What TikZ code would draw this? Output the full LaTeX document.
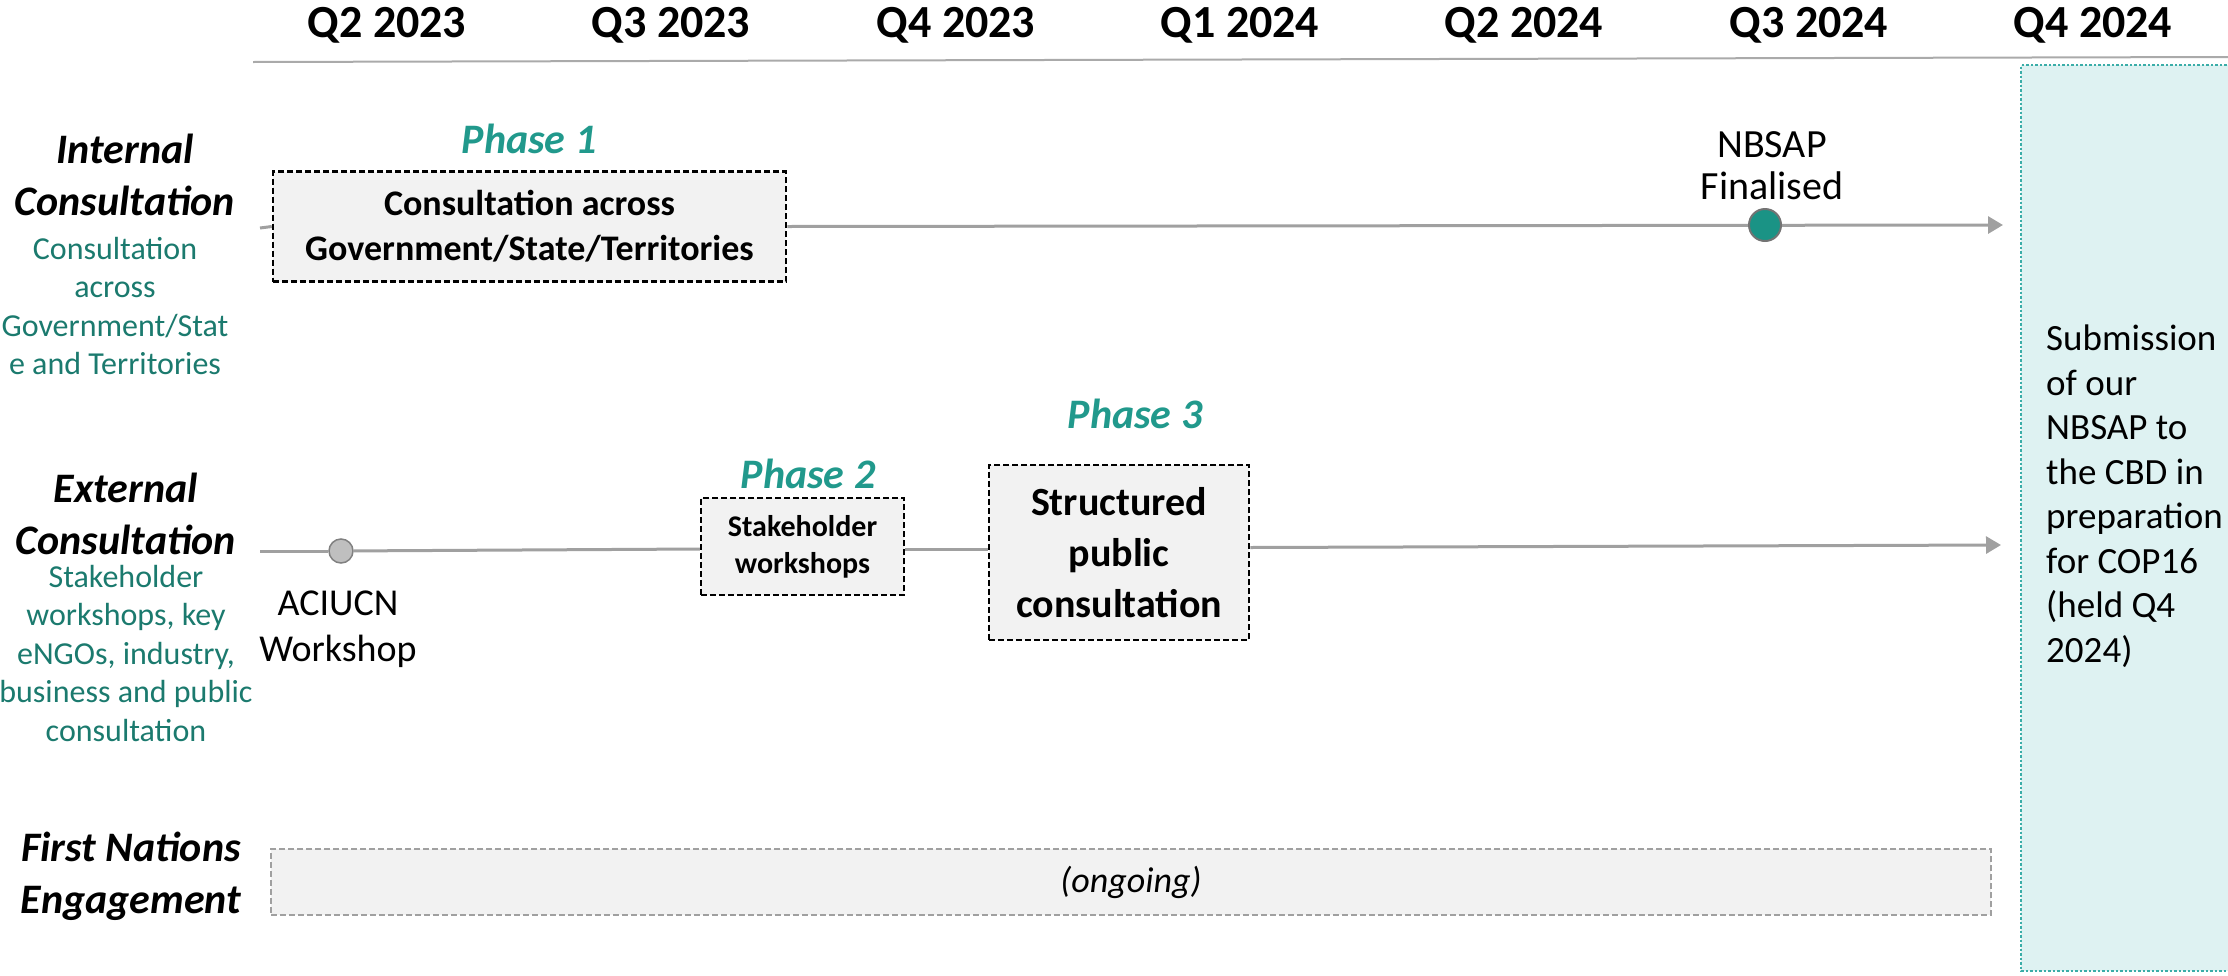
\documentclass[tikz,border=0pt]{standalone}
\usepackage{fontspec}
\setmainfont{Carlito}
\usetikzlibrary{arrows.meta}
\definecolor{phaseteal}{HTML}{21998C}
\definecolor{subteal}{HTML}{1B7A6E}
\definecolor{dotteal}{HTML}{3AADA8}
\definecolor{panelfill}{HTML}{DEF2F2}
\definecolor{boxgray}{HTML}{F2F2F2}
\definecolor{linegray}{HTML}{A0A0A0}
\definecolor{milefill}{HTML}{1A9385}
\begin{document}
\begin{tikzpicture}[x=1pt,y=-1pt,
  qlabel/.style={anchor=base,inner sep=0,font=\fontsize{46}{55}\selectfont\bfseries},
  rowlabel/.style={align=center,inner sep=0,font=\fontsize{42}{52}\selectfont\bfseries\itshape},
  sublabel/.style={align=center,inner sep=0,text=subteal,font=\fontsize{32}{38.5}\selectfont},
  phaselabel/.style={anchor=base,inner sep=0,text=phaseteal,font=\fontsize{42}{50}\selectfont\bfseries\itshape},
  phasebox/.style={draw=black,line width=2.5pt,dash pattern=on 6pt off 3pt,fill=boxgray,align=center,inner sep=0},
  timeline/.style={draw=linegray,line width=3pt},
  tlarrow/.style={timeline,-{Triangle[length=15pt,width=17pt]}},
  plain/.style={align=center,inner sep=0,font=\fontsize{38}{46}\selectfont}
]
\useasboundingbox (0,0) rectangle (2228,975);
% header
\draw[draw=linegray!90,line width=2pt] (253,62) -- (2228,57);
\node[qlabel] (q1) at (387,37) {Q2 2023};
\node[qlabel] (q2) at (671,37) {Q3 2023};
\node[qlabel] (q3) at (956,37) {Q4 2023};
\node[qlabel] (q4) at (1240,37) {Q1 2024};
\node[qlabel] (q5) at (1524,37) {Q2 2024};
\node[qlabel] (q6) at (1809,37) {Q3 2024};
\node[qlabel] (q7) at (2093,37) {Q4 2024};
% right panel
\fill[panelfill] (2021,65) rectangle (2240,971);
\draw[dotteal,line width=2.5pt,dash pattern=on 2.5pt off 2pt] (2240,65) -- (2021,65) -- (2021,971) -- (2240,971);
\node[anchor=west,align=left,inner sep=0,font=\fontsize{37}{44.5}\selectfont] (panel) at (2046,496)
  {Submission\\of our\\NBSAP to\\the CBD in\\preparation\\for COP16\\(held Q4\\2024)};
% row labels
\node[rowlabel] (lint) at (125,175) {Internal\\Consultation};
\node[sublabel] (sint) at (115,306) {Consultation\\across\\Government/Stat\\e and Territories};
\node[rowlabel] (lext) at (126,514) {External\\Consultation};
\node[sublabel] (sext) at (126,653) {Stakeholder\\workshops, key\\eNGOs, industry,\\business and public\\consultation};
\node[rowlabel] (lfn) at (131,876) {First Nations\\Engagement};
% internal row
\coordinate (i0) at (260,228);
\coordinate (i1) at (2003,225);
\node[phasebox,minimum width=513pt,minimum height=110pt,font=\fontsize{36}{45}\selectfont\bfseries] (b1) at (529.5,226.5)
  {Consultation across\\Government/State/Territories};
\draw[timeline] (i0) -- (b1.west);
\draw[tlarrow] (b1.east) -- (i1);
\node[circle,draw=black!55,line width=2pt,fill=milefill,minimum size=32pt,inner sep=0] (m1) at (1765,225) {};
\node[plain,font=\fontsize{40}{42}\selectfont] (m1t) at (1772,166) {NBSAP\\Finalised};
\node[phaselabel] (p1) at (529,153) {Phase 1};
% external row
\coordinate (e0) at (260,551);
\coordinate (e1) at (2001,545);
\node[circle,draw=black!50,line width=1.5pt,fill=black!25,minimum size=24pt,inner sep=0] (ac) at (341,551) {};
\node[plain] (act) at (338,629) {ACIUCN\\Workshop};
\node[phasebox,minimum width=203pt,minimum height=97pt,font=\fontsize{30}{37}\selectfont\bfseries] (b2) at (802.5,546.5)
  {Stakeholder\\workshops};
\node[phasebox,minimum width=260pt,minimum height=175pt,font=\fontsize{40}{51}\selectfont\bfseries] (b3) at (1119,552.5)
  {Structured\\public\\consultation};
\draw[timeline] (e0) -- (ac);
\draw[timeline] (ac) -- ([yshift=-2.5pt]b2.west);
\draw[timeline] ([yshift=-2.5pt]b2.east) -- ([yshift=3.5pt]b3.west);
\draw[tlarrow] ([yshift=5pt]b3.east) -- (e1);
\node[phaselabel] (p2) at (808,488) {Phase 2};
\node[phaselabel] (p3) at (1135,428) {Phase 3};
% first nations
\node[draw=linegray,line width=2pt,dash pattern=on 6pt off 3pt,fill=boxgray,minimum width=1720pt,minimum height=66pt,inner sep=0,
  font=\fontsize{36}{44}\selectfont\itshape] (fn) at (1131,882) {(ongoing)};
\end{tikzpicture}
\end{document}
